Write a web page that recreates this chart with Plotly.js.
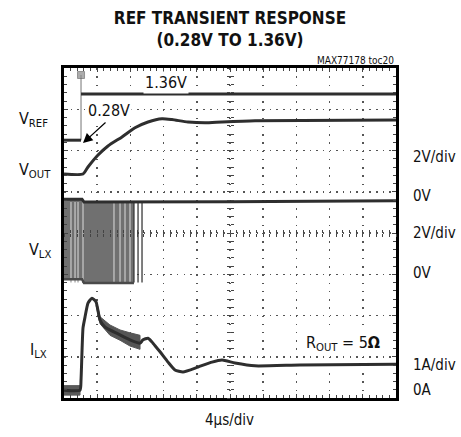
<!DOCTYPE html>
<html>
<head>
<meta charset="utf-8">
<script src="https://cdn.plot.ly/plotly-3.0.1.min.js"></script>
<style>html,body{margin:0;padding:0;background:#fff;}#chart{width:461px;height:437px;}</style>
</head>
<body>
<div id="chart"></div>
<script>
// time in microseconds (4 us/div), levels in screen divisions (0 = bottom edge, 8 = top edge)
const vrefLowT = [0, 2.05];
const vrefLowY = [6.25, 6.25];
const vrefHighT = [2.05, 40];
const vrefHighY = [7.37, 7.37];
const trigT = [2.05];
const trigY = [7.83];

const voutT = [0, 2.29, 2.89, 4.10, 5.30, 6.99, 8.55, 10.12, 11.81, 13.01, 14.94, 16.99, 19.04, 23.01, 40];
const voutY = [5.43, 5.43, 5.60, 5.89, 6.11, 6.33, 6.55, 6.69, 6.77, 6.75, 6.69, 6.67, 6.69, 6.72, 6.74];

const vlxBandT = [0, 2.17, 2.17, 8.43, 8.43, 2.17, 2.17, 0];
const vlxBandY = [4.82, 4.82, 4.75, 4.75, 2.79, 2.79, 2.88, 2.88];
const vlxHighT = [0, 2.17, 2.41, 9.40, 20, 40];
const vlxHighY = [4.82, 4.82, 4.75, 4.75, 4.76, 4.78];
const vlxLowT = [0, 2.17, 2.41, 8.43];
const vlxLowY = [2.88, 2.88, 2.79, 2.79];
const vlxLightEdgesT = [0.84, 1.33, 1.69, 2.29, 6.02, 6.75, 7.35, 7.95];
const vlxDarkEdgesT = [8.43, 8.92, 9.40];

const ilxT = [0, 1.93, 2.05, 2.29, 2.53, 2.89, 3.37, 3.86, 4.34, 4.94, 5.54, 6.75, 7.95, 9.16, 9.52, 10.12, 10.72, 11.57, 12.53, 13.37, 14.34, 16.14, 17.83, 19.04, 20.60, 23.01, 28.43, 40];
const ilxY = [0.19, 0.19, 0.44, 1.70, 1.96, 2.30, 2.42, 2.33, 1.89, 1.72, 1.65, 1.53, 1.41, 1.33, 1.41, 1.45, 1.33, 1.12, 0.87, 0.68, 0.63, 0.75, 0.87, 0.92, 0.85, 0.78, 0.80, 0.82];
const ilxRippleT = [3.86, 4.34, 5.54, 6.75, 7.95, 9.16];
const ilxRippleHi = [2.40, 1.97, 1.77, 1.65, 1.58, 1.52];
const ilxRippleLo = [2.25, 1.80, 1.52, 1.40, 1.26, 1.18];
const ilxBaseT = [0, 1.93];
const ilxBaseHi = [0.30, 0.30];
const ilxBaseLo = [0.07, 0.07];

const FONT = '"DejaVu Sans Condensed", "Liberation Sans Narrow", sans-serif';
const TRACE = '#2e2e2e';

function band(t, hi, lo) {
  return {x: t.concat(t.slice().reverse()), y: hi.concat(lo.slice().reverse())};
}
function edges(ts, top, bottom) {
  const x = [], y = [];
  ts.forEach(t => { x.push(t, t, null); y.push(top, bottom, null); });
  return {x, y};
}

const traces = [];
// VLX switching envelope
traces.push({x: vlxBandT, y: vlxBandY, mode: 'lines', fill: 'toself', fillcolor: '#707070', line: {width: 0, color: '#707070'}, hoverinfo: 'skip'});
const le = edges(vlxLightEdgesT, 4.75, 2.80);
traces.push({x: le.x, y: le.y, mode: 'lines', line: {width: 1.6, color: '#b4b4b4'}, hoverinfo: 'skip'});
const de = edges(vlxDarkEdgesT, 4.75, 2.80);
traces.push({x: de.x, y: de.y, mode: 'lines', line: {width: 1.3, color: '#3a3a3a'}, hoverinfo: 'skip'});
traces.push({x: vlxLowT, y: vlxLowY, mode: 'lines', line: {width: 2.5, color: '#4a4a4a'}, hoverinfo: 'skip'});
traces.push({x: vlxHighT, y: vlxHighY, mode: 'lines', line: {width: 3, color: TRACE}, hoverinfo: 'skip'});
// VREF
traces.push({x: [vrefLowT[1], vrefHighT[0], trigT[0]], y: [vrefLowY[1], vrefHighY[0], trigY[0]], mode: 'lines', line: {width: 1.2, color: '#8a8a8a'}, hoverinfo: 'skip'});
traces.push({x: vrefLowT, y: vrefLowY, mode: 'lines', line: {width: 3, color: TRACE}, hoverinfo: 'skip'});
traces.push({x: vrefHighT, y: vrefHighY, mode: 'lines', line: {width: 3, color: TRACE}, hoverinfo: 'skip'});
traces.push({x: trigT, y: trigY, mode: 'markers', marker: {symbol: 'square', size: [7], color: '#8a8a8a', line: {width: 1, color: '#666'}}, hoverinfo: 'skip'});
// VOUT
traces.push({x: voutT, y: voutY, mode: 'lines', line: {width: 3, color: TRACE, shape: 'spline', smoothing: 0.6}, hoverinfo: 'skip'});
// ILX
const rb = band(ilxRippleT, ilxRippleHi, ilxRippleLo);
traces.push({x: rb.x, y: rb.y, mode: 'lines', fill: 'toself', fillcolor: '#555555', line: {width: 1, color: '#555555'}, hoverinfo: 'skip'});
const bb = band(ilxBaseT, ilxBaseHi, ilxBaseLo);
traces.push({x: bb.x, y: bb.y, mode: 'lines', fill: 'toself', fillcolor: '#5a5a5a', line: {width: 1, color: '#5a5a5a'}, hoverinfo: 'skip'});
traces.push({x: ilxT, y: ilxY, mode: 'lines', line: {width: 3, color: TRACE, shape: 'spline', smoothing: 0.5}, hoverinfo: 'skip'});
// carriers for the centre graticule axes
traces.push({x: [], y: [], xaxis: 'x2', yaxis: 'y', hoverinfo: 'skip'});
traces.push({x: [], y: [], xaxis: 'x3', yaxis: 'y', hoverinfo: 'skip'});
traces.push({x: [], y: [], xaxis: 'x', yaxis: 'y2', hoverinfo: 'skip'});
traces.push({x: [], y: [], xaxis: 'x', yaxis: 'y3', hoverinfo: 'skip'});

const baseX = {range: [0, 40], showticklabels: false, zeroline: false, fixedrange: true};
const baseY = {range: [0, 8], showticklabels: false, zeroline: false, fixedrange: true};

function px2paperX(px) { return (px - 64) / 332; }
function px2paperY(py) { return (398 - py) / 330; }

const ann = [];
function label(text, px, py, anchor, size) {
  ann.push({text, xref: 'paper', yref: 'paper', x: px2paperX(px), y: px2paperY(py), xanchor: anchor, yanchor: 'middle', showarrow: false, font: {family: FONT, size: size || 15, color: '#111'}});
}
label('V<sub>REF</sub>', 17, 119, 'left', 16);
label('V<sub>OUT</sub>', 17, 170, 'left', 16);
label('V<sub>LX</sub>', 27, 250, 'left', 16);
label('I<sub>LX</sub>', 28, 350, 'left', 16);
label('2V/div', 411, 157, 'left');
label('0V', 411, 196, 'left');
label('2V/div', 411, 233, 'left');
label('0V', 411, 273, 'left');
label('1A/div', 411, 365, 'left');
label('0A', 411, 390, 'left');
label('4μs/div', 229, 420, 'center');
label('MAX77178 toc20', 396, 60, 'right', 10);
ann.push({text: '1.36V', xref: 'paper', yref: 'paper', x: px2paperX(166), y: px2paperY(83), xanchor: 'center', yanchor: 'middle', showarrow: false, bgcolor: '#fff', font: {family: FONT, size: 16, color: '#111'}});
ann.push({text: '0.28V', xref: 'paper', yref: 'paper', x: px2paperX(109), y: px2paperY(111), xanchor: 'center', yanchor: 'middle', showarrow: false, bgcolor: '#fff', font: {family: FONT, size: 16, color: '#111'}});
ann.push({text: '', x: 2.29, y: 6.18, xref: 'x', yref: 'y', showarrow: true, ax: 24, ay: -22, arrowhead: 2, arrowsize: 1.6, arrowwidth: 1.2, arrowcolor: '#000', standoff: 0});
ann.push({text: 'R<sub>OUT</sub> = 5<b>Ω</b>', xref: 'paper', yref: 'paper', x: px2paperX(343), y: px2paperY(343), xanchor: 'center', yanchor: 'middle', showarrow: false, bgcolor: '#fff', font: {family: FONT, size: 16, color: '#111'}});

const layout = {
  width: 461, height: 437,
  margin: {l: 64, r: 65, t: 68, b: 39, pad: 0},
  paper_bgcolor: '#fff', plot_bgcolor: '#fff',
  showlegend: false,
  font: {family: FONT, color: '#111'},
  title: {text: '<b>REF TRANSIENT RESPONSE</b><br><b>(0.28V TO 1.36V)</b>', font: {family: FONT, size: 17, color: '#111'}, x: 0.5, xref: 'paper', xanchor: 'center', y: 0.945, yref: 'container', yanchor: 'top'},
  xaxis: Object.assign({}, baseX, {dtick: 4, tick0: 0, showgrid: true, gridcolor: '#555', gridwidth: 1.5, griddash: '1.5px,6.75px', showline: true, linecolor: '#000', linewidth: 3, mirror: 'ticks', ticks: 'inside', ticklen: 4, tickwidth: 1, tickcolor: '#444', minor: {dtick: 0.8, tick0: 0, ticks: 'inside', ticklen: 3, tickwidth: 1, tickcolor: '#444', showgrid: false}}),
  yaxis: Object.assign({}, baseY, {dtick: 1, tick0: 0, showgrid: true, gridcolor: '#555', gridwidth: 1.5, griddash: '1.5px,5.14px', showline: true, linecolor: '#000', linewidth: 3, mirror: 'ticks', ticks: 'inside', ticklen: 4, tickwidth: 1, tickcolor: '#444', minor: {dtick: 0.2, tick0: 0, ticks: 'inside', ticklen: 3, tickwidth: 1, tickcolor: '#444', showgrid: false}}),
  xaxis2: Object.assign({}, baseX, {overlaying: 'x', anchor: 'free', position: 0.5, showgrid: false, showline: false, dtick: 0.8, tick0: 0, ticks: 'inside', ticklen: 3, tickwidth: 1, tickcolor: '#444'}),
  xaxis3: Object.assign({}, baseX, {overlaying: 'x', anchor: 'free', position: 0.5, showgrid: false, showline: false, dtick: 0.8, tick0: 0, ticks: 'outside', ticklen: 3, tickwidth: 1, tickcolor: '#444'}),
  yaxis2: Object.assign({}, baseY, {overlaying: 'y', anchor: 'free', position: 0.5, showgrid: false, showline: false, dtick: 0.2, tick0: 0, ticks: 'inside', ticklen: 3, tickwidth: 1, tickcolor: '#444'}),
  yaxis3: Object.assign({}, baseY, {overlaying: 'y', anchor: 'free', position: 0.5, showgrid: false, showline: false, dtick: 0.2, tick0: 0, ticks: 'outside', ticklen: 3, tickwidth: 1, tickcolor: '#444'}),
  annotations: ann
};

Plotly.newPlot('chart', traces, layout, {staticPlot: true, displayModeBar: false});
</script>
</body>
</html>
